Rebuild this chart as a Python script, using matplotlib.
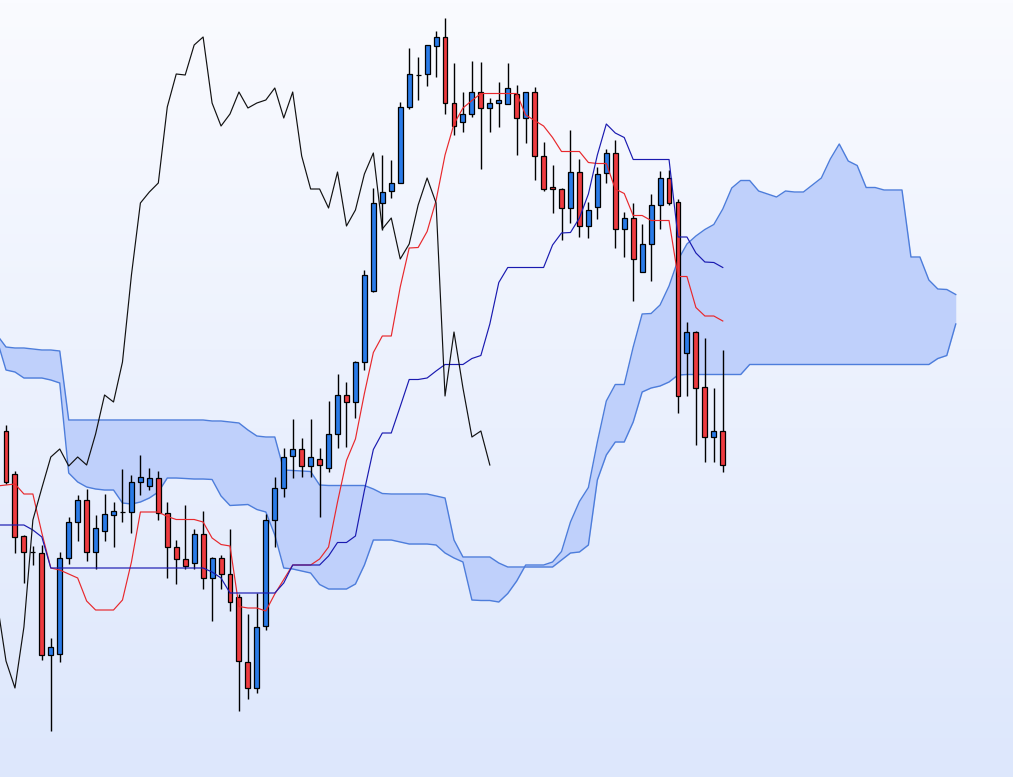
import numpy as np
import matplotlib
matplotlib.use("Agg")
import matplotlib.pyplot as plt
from matplotlib.patches import Rectangle

# ---- candle data (price units) ----
opens = [369,326,264,248,247,145,146,242,278,300,
         248,269,285,288,288,318,314,322,287,253,
         241,237,266,222,242,226,203,138,112,174,
         280,312,344,351,334,341,332,366,405,398,
         438,509,597,609,617,693,725,726,754,763,
         697,678,686,708,692,697,696,706,682,708,
         644,613,611,592,628,574,593,627,647,571,
         582,528,556,595,622,598,447,468,413,363,
         369]
highs = [375,329,265,254,255,162,248,283,305,311,
         285,306,298,331,325,345,332,329,298,260,
         295,271,289,243,245,271,206,186,207,286,
         323,352,381,362,381,352,399,426,418,439,
         530,612,645,640,698,752,743,755,769,782,
         737,708,739,738,702,718,737,715,708,713,
         658,635,612,670,641,598,633,651,660,588,
         597,576,606,629,630,601,478,469,462,412,
         450]
lows = [316,247,217,235,140,69,138,236,259,239,
        231,259,253,278,267,305,310,280,222,216,
        231,231,211,179,211,189,89,101,107,170,
        253,303,322,323,323,283,328,352,353,382,
        430,508,570,602,617,691,700,714,723,686,
        665,668,683,631,668,673,697,645,657,620,
        609,587,560,577,563,562,581,617,552,543,
        499,528,519,571,595,387,404,355,338,338,
        328]
closes = [318,263,248,248,145,153,242,278,300,248,
          272,286,289,288,318,323,322,287,253,241,
          234,266,222,242,226,198,139,112,173,280,
          312,343,351,334,343,335,366,405,398,438,
          525,597,608,617,693,726,725,755,763,697,
          674,686,708,692,697,700,712,682,708,644,
          611,611,592,628,574,590,626,647,571,582,
          541,556,595,622,597,404,468,412,363,369,
          335]

# ---- Ichimoku lines (index -1 .. 80) ----
tenkan = [314,315,316,306,306,267,232,230,226,222,
          199,190,190,190,200,238,288,288,288,283.5,
          280.5,280.5,280.5,278,262,255.5,254,193.5,192,192,
          189,206,220.5,235,235,235,241,253,298,339.5,
          361,406.5,447.5,464,464,513,552,552.5,568.5,599.5,
          645,676,692,699.5,706.5,706.5,706.5,706.5,706.5,685,
          679.5,674,662.5,648.5,648.5,648.5,637.5,636.5,636.5,611,
          606.5,584.5,584.5,579.5,579.5,579.5,523.5,523.5,492.5,484,
          484,479]
kijun = [275,275,275,275,270,263,232,232,232,232,
         232,232,232,232,232,232,232,232,232,232,
         232,232,232,232,228,222,207,207,207,207,
         207,207,217,235,235,235,235,244,257.5,257.5,
         264,309.5,350.5,367,367,393.5,420.5,420.5,422,429,
         435.5,435.5,435.5,441.5,444.5,476,517.5,532.5,532.5,532.5,
         532.5,532.5,555,567,567.5,582,606,645,676,667,
         662.5,640.5,640.5,640.5,640.5,640.5,563,563,547,538,
         537.5,532.5]

# ---- cloud (index -1 .. 106) ----
span_a = [460,430,428,422,422,422,420,417,327,318,
          313,311,310,310,297,296,298,302,308,322,
          322,321.5,321,321,320.5,304,294.5,295,295.5,290.5,
          288,265,232,231,229,227,215.5,211,211,211,
          216,235,260,260,260,258,256,256,256,255,
          247,242,238,200,199.5,199.5,198,206.5,219,235,
          235,235,238,248.5,278,298.5,312.5,358,399,415.5,
          415.5,453,486,486.5,495,514,540,556,564,570.5,
          575.5,591,612,619.5,619.5,609,606,603,609,608,
          608,615,622,641,656,639,634.5,612.5,612.5,610,
          610,610,543,543,520,511,510.5,505.5]
span_b = [465,453,452,452,451,450,450,449,380,380,
          380,380,380,380,380,380,380,380,380,380,
          380,380,380,380,379,379,378,377,370,364,
          363,363,330,329.5,329,328.5,315,314.5,314.5,314.5,
          314.5,314.5,311,306.5,306,306,306,306,306,304,
          302,260,243,243,243,243,237,233,233,233,
          233,233,233,240,247,248,255,320,345,358,
          358,378,408,412,414,418,425,425.5,425.5,425.5,
          425.5,425.5,425.5,425.5,435.5,435.5,435.5,435.5,435.5,435.5,
          435.5,435.5,435.5,435.5,435.5,435.5,435.5,435.5,435.5,435.5,
          435.5,435.5,435.5,435.5,435.5,441.5,444.5,476]

SHIFT = 26
n = len(opens)
idx = np.arange(n)
line_idx = np.arange(-1, n)
cloud_idx = np.arange(-1, n + SHIFT)

fig = plt.figure(figsize=(10.13, 7.77), dpi=100)
ax = fig.add_axes([0, 0, 1, 1])

# background gradient
top = np.array([250, 251, 255]) / 255.0
bot = np.array([221, 231, 252]) / 255.0
g = np.linspace(0, 1, 256)[:, None, None]
img = top + (bot - top) * g
ax.imshow(img, extent=[0, 1, 0, 1], transform=ax.transAxes, aspect="auto", zorder=0)

# cloud
ax.fill_between(cloud_idx, span_a, span_b, color="#bfd0fb", lw=0, zorder=1)
ax.plot(cloud_idx, span_a, color="#4d7ddb", lw=1.0, zorder=2)
ax.plot(cloud_idx, span_b, color="#4d7ddb", lw=1.0, zorder=2)

# candles
w = 0.55
for i in idx:
    o, h, l, c = opens[i], highs[i], lows[i], closes[i]
    ax.vlines(i, l, h, color="black", lw=1.0, zorder=3)
    col = "#2a7be8" if c > o else "#ee3b40"
    ax.add_patch(Rectangle((i - w / 2, min(o, c)), w, abs(c - o),
                           facecolor=col, edgecolor="black", lw=0.9, zorder=4))

# lines
ax.plot(line_idx, tenkan, color="#e8282c", lw=0.85, zorder=5)
ax.plot(line_idx, kijun, color="#1a1ab0", lw=0.85, zorder=5)
ax.plot(idx[SHIFT - 1:] - SHIFT, closes[SHIFT - 1:], color="#111111", lw=0.85, zorder=5)

ax.set_xlim(-0.6696, 112.39)
ax.set_ylim(23, 800)
ax.axis("off")
fig.savefig("out.png", dpi=100)
